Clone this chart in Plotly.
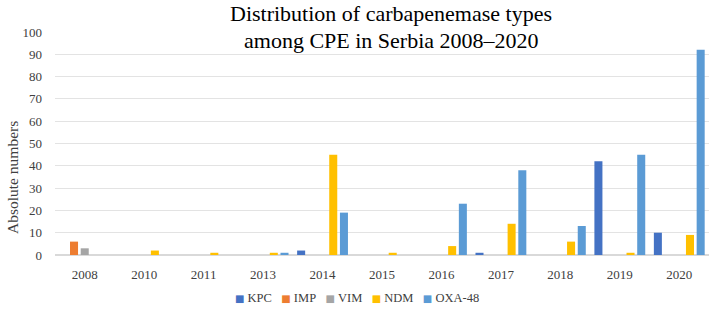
import plotly.graph_objects as go

years = ["2008", "2010", "2011", "2013", "2014", "2015", "2016", "2017", "2018", "2019", "2020"]
kpc = [0, 0, 0, 0, 2, 0, 0, 1, 0, 42, 10]
imp = [6, 0, 0, 0, 0, 0, 0, 0, 0, 0, 0]
vim = [3, 0, 0, 0, 0, 0, 0, 0, 0, 0, 0]
ndm = [0, 2, 1, 1, 45, 1, 4, 14, 6, 1, 9]
oxa48 = [0, 0, 0, 1, 19, 0, 23, 38, 13, 45, 92]

series_names = ["KPC", "IMP", "VIM", "NDM", "OXA-48"]
series_values = [kpc, imp, vim, ndm, oxa48]
series_colors = ["#4472C4", "#ED7D31", "#A5A5A5", "#FFC000", "#5B9BD5"]

font = "Liberation Serif"
txt = "#404040"
fig = go.Figure()
for name, vals, col in zip(series_names, series_values, series_colors):
    fig.add_trace(go.Bar(x=years, y=vals, name=name, showlegend=False,
                         marker=dict(color=col, line=dict(width=0))))

# legend as a single line of text
legend_txt = "&nbsp;&nbsp;&nbsp;".join(
    f"<span style='color:{c};font-family:DejaVu Sans;font-size:10px'>■</span>&nbsp;{n}"
    for n, c in zip(series_names, series_colors))

PH = 309 - 32 - 54  # plot height in px

fig.update_layout(
    width=712, height=309,
    margin=dict(l=55, r=3, t=32, b=54, autoexpand=False),
    paper_bgcolor="white", plot_bgcolor="white",
    font=dict(family=font, size=13, color=txt),
    barmode="group", bargap=0.1, bargroupgap=0.25,
    showlegend=False,
    xaxis=dict(type="category", showgrid=False, showline=False, ticks="", automargin=False,
               ticklabelstandoff=10,
               tickfont=dict(family=font, size=13, color=txt)),
    yaxis=dict(range=[0, 100], dtick=10, showgrid=True, gridcolor="#E3E3E3",
               zeroline=True, zerolinecolor="#D9D9D9", ticks="", automargin=False,
               ticklabelstandoff=12,
               tickfont=dict(family=font, size=13, color=txt)),
    annotations=[
        dict(text="Distribution of carbapenemase types", xref="paper", yref="paper",
             x=(391 - 55) / 654, y=1 + (32 - 14) / PH, xanchor="center", yanchor="middle",
             showarrow=False, font=dict(family=font, size=22, color="#000000")),
        dict(text="among CPE in Serbia 2008–2020", xref="paper", yref="paper",
             x=(391 - 55) / 654, y=1 - (40 - 32) / PH, xanchor="center", yanchor="middle",
             showarrow=False, font=dict(family=font, size=22, color="#000000")),
        dict(text="Absolute numbers", xref="paper", yref="paper", textangle=-90,
             x=(12 - 55) / 654, y=(255 - 178) / PH, xanchor="center", yanchor="middle",
             showarrow=False, font=dict(family=font, size=15.5, color=txt)),
        dict(text=legend_txt, xref="paper", yref="paper",
             x=(357 - 55) / 654, y=-(298 - 255) / PH, xanchor="center", yanchor="middle",
             showarrow=False, font=dict(family=font, size=12.5, color=txt)),
    ],
)

fig.write_html("out.html", config={"displayModeBar": False},
               post_script="document.body.style.margin='0px';document.body.style.padding='0px';")
